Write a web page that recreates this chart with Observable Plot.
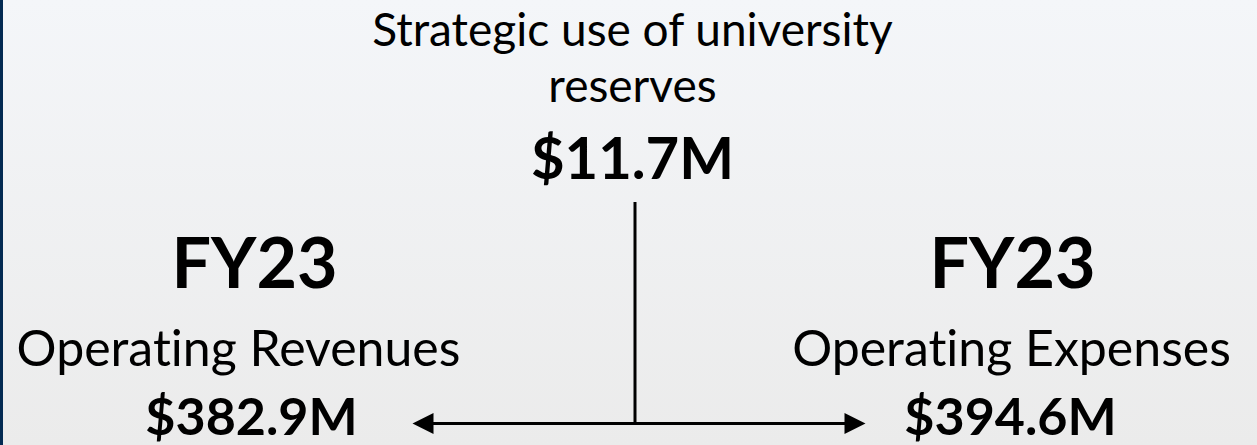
<!DOCTYPE html>
<html><head><meta charset="utf-8">
<script src="https://cdn.jsdelivr.net/npm/d3@7"></script>
<script src="https://cdn.jsdelivr.net/npm/@observablehq/plot@0.6"></script>
<style>
html,body{margin:0;padding:0;background:#eeeeee;}
#chart{width:1257px;height:445px;position:relative;overflow:hidden;}
#strip{position:absolute;left:0;top:0;width:3px;height:445px;background:#032a52;}
svg text{font-variant-ligatures:none;font-feature-settings:"liga" 0;}
</style></head><body><div id="chart"><div id="strip"></div></div>
<script>
// ---- content ----
const topLabel = ["Strategic use of university", "reserves"];
const topValue = ["$11.7M"];
const sideYears = ["FY23", "FY23"];
const sideLabels = ["Operating Revenues", "Operating Expenses"];
const sideValues = ["$382.9M", "$394.6M"];

// ---- layout (pixels) ----
const W = 1257, H = 445;
const L = {
  center: 632,
  topLines: [45, 101], topValueY: 178,
  yearY: 287, yearX: [254, 1012],
  labelY: 365, labelX: [238, 1011],
  valueY: 434, valueX: [251, 1010],
  stemX: 634.5, stemTop: 202, barY: 423,
  barLeft: 412, barRight: 865, head: 21, headHalf: 10.5
};
const FONT = "Lato, 'Open Sans', sans-serif";

const regular = [
  ...topLabel.map((t, i) => ({text: t, x: L.center, y: L.topLines[i], size: 46})),
  ...sideLabels.map((t, i) => ({text: t, x: L.labelX[i], y: L.labelY, size: 50}))
];
const bold = [
  ...topValue.map(t => ({text: t, x: L.center, y: L.topValueY, size: 58})),
  ...sideYears.map((t, i) => ({text: t, x: L.yearX[i], y: L.yearY, size: 70})),
  ...sideValues.map((t, i) => ({text: t, x: L.valueX[i], y: L.valueY, size: 52}))
];
const heads = [
  {id: "l", x: L.barLeft, y: L.barY},
  {id: "l", x: L.barLeft + L.head, y: L.barY - L.headHalf},
  {id: "l", x: L.barLeft + L.head, y: L.barY + L.headHalf},
  {id: "r", x: L.barRight, y: L.barY},
  {id: "r", x: L.barRight - L.head, y: L.barY - L.headHalf},
  {id: "r", x: L.barRight - L.head, y: L.barY + L.headHalf}
];

const chart = Plot.plot({
  width: W, height: H,
  margin: 0,
  x: {domain: [0, W], range: [0, W], axis: null},
  y: {domain: [0, H], range: [0, H], axis: null},
  style: {background: "linear-gradient(#f4f6f9, #ebebeb)", overflow: "visible", fontVariantLigatures: "none"},
  marks: [
    Plot.ruleX([L.stemX], {y1: L.stemTop, y2: L.barY, stroke: "black", strokeWidth: 3}),
    Plot.ruleY([L.barY], {x1: L.barLeft + L.head - 1, x2: L.barRight - L.head + 1, stroke: "black", strokeWidth: 3}),
    Plot.line(heads, {x: "x", y: "y", z: "id", fill: "black", stroke: "none"}),
    Plot.text(regular, {x: "x", y: "y", text: "text", fontSize: "size", textAnchor: "middle", lineAnchor: "bottom", fill: "black", fontFamily: FONT, fontWeight: 400}),
    Plot.text(bold, {x: "x", y: "y", text: "text", fontSize: "size", textAnchor: "middle", lineAnchor: "bottom", fill: "black", fontFamily: FONT, fontWeight: 700})
  ]
});
document.getElementById("chart").prepend(chart);
</script>
</body></html>
